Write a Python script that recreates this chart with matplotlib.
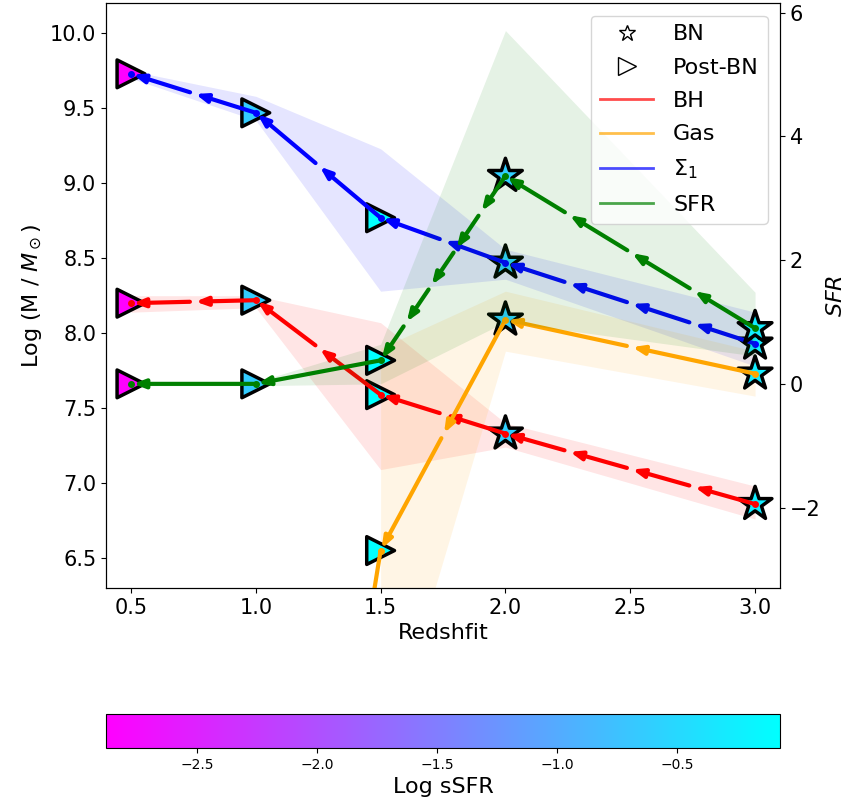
import numpy as np
import matplotlib
matplotlib.use("Agg")
import matplotlib.pyplot as plt
from matplotlib.colors import Normalize
from matplotlib.cm import ScalarMappable
from matplotlib.lines import Line2D
from matplotlib.patches import FancyArrowPatch

# redshift snapshots and the star-formation state at each one
redshift = np.array([0.5, 1.0, 1.5, 2.0, 3.0])
stage = np.array(["Post-BN", "Post-BN", "Post-BN", "BN", "BN"])
log_ssfr = np.array([-2.88, -0.63, -0.07, -0.60, -0.27])

# log masses (left axis) with their spread
bh = np.array([8.20, 8.22, 7.59, 7.33, 6.86])
bh_lo = np.array([8.14, 8.17, 7.09, 7.24, 6.76])
bh_hi = np.array([8.25, 8.25, 8.07, 7.40, 6.98])

gas = np.array([1.4, 1.4, 6.55, 8.09, 7.73])
gas_lo = np.array([np.nan, np.nan, 5.08, 7.88, 7.58])
gas_hi = np.array([np.nan, np.nan, 7.90, 8.28, 7.88])

sigma1 = np.array([9.73, 9.47, 8.77, 8.47, 7.93])
sigma1_lo = np.array([9.70, 9.42, 8.28, 8.36, 7.78])
sigma1_hi = np.array([9.75, 9.58, 9.23, 8.56, 8.14])

# star formation rate (right axis)
sfr = np.array([0.0, 0.0, 0.38, 3.36, 0.90])
sfr_lo = np.array([-0.03, -0.03, 0.0, 1.0, 0.45])
sfr_hi = np.array([0.03, 0.03, 0.64, 5.71, 1.48])

# how many arrow pieces each segment is cut into (low z -> high z)
bh_pieces = [2, 2, 2, 4]
gas_pieces = [2, 2, 2, 2]
sigma1_pieces = [2, 2, 2, 4]
sfr_pieces = [1, 1, 5, 4]

CMAP = "cool_r"
norm = Normalize(log_ssfr.min(), log_ssfr.max())


def draw_track(ax, y, color, pieces):
    """Arrows running from high redshift to low redshift."""
    for i in range(len(redshift) - 1):
        z0, z1 = redshift[i + 1], redshift[i]
        y0, y1 = y[i + 1], y[i]
        n = pieces[i]
        for k in range(n):
            a, b = k / n, (k + 1) / n
            pa = (z0 + (z1 - z0) * a, y0 + (y1 - y0) * a)
            pb = (z0 + (z1 - z0) * b, y0 + (y1 - y0) * b)
            arr = FancyArrowPatch(
                pa, pb,
                arrowstyle="-|>,head_length=0.45,head_width=0.17",
                mutation_scale=15, color=color, lw=3,
                shrinkA=2.5 if k > 0 else 0, shrinkB=1.5, zorder=4,
            )
            ax.add_patch(arr)
    ax.plot(redshift, y, "o", color=color, ms=4, zorder=5)


def draw_markers(ax, y):
    for name, marker, size in [("Post-BN", ">", 400), ("BN", "*", 650)]:
        m = stage == name
        ax.scatter(redshift[m], y[m], c=log_ssfr[m], cmap=CMAP, norm=norm,
                   marker=marker, s=size, edgecolors="k", linewidths=2.5, zorder=3)


fig = plt.figure(figsize=(8.5, 8.02), dpi=100)
ax = fig.add_axes([0.1247, 0.2668, 0.793, 0.729])
ax2 = ax.twinx()
cax = fig.add_axes([0.1247, 0.0673, 0.793, 0.0424])

for lo, hi, c in [(sigma1_lo, sigma1_hi, "blue"), (bh_lo, bh_hi, "red"), (gas_lo, gas_hi, "orange")]:
    ax.fill_between(redshift, lo, hi, color=c, alpha=0.1, lw=0)
ax2.fill_between(redshift, sfr_lo, sfr_hi, color="green", alpha=0.1, lw=0)

for y in (bh, gas, sigma1):
    draw_markers(ax, y)
draw_markers(ax2, sfr)

draw_track(ax, bh, "red", bh_pieces)
draw_track(ax, gas, "orange", gas_pieces)
draw_track(ax, sigma1, "blue", sigma1_pieces)
draw_track(ax2, sfr, "green", sfr_pieces)

ax.set_xlim(0.4, 3.1)
ax.set_ylim(6.3, 10.2)
ax2.set_ylim(-3.3, 6.15)
ax.set_xticks([0.5, 1.0, 1.5, 2.0, 2.5, 3.0])
ax.set_yticks(np.arange(6.5, 10.01, 0.5))
ax2.set_yticks([-2, 0, 2, 4, 6])
ax.tick_params(labelsize=15)
ax2.tick_params(labelsize=15)
ax.set_xlabel("Redshfit", fontsize=16)
ax.set_ylabel(r"Log (M / $M_\odot$)", fontsize=16)
ax2.set_ylabel(r"$SFR$", fontsize=16)

handles = [
    Line2D([], [], ls="none", marker="*", mfc="white", mec="k", mew=1, ms=12),
    Line2D([], [], ls="none", marker=">", mfc="white", mec="k", mew=1, ms=13),
    Line2D([], [], color="red", lw=2, alpha=0.7),
    Line2D([], [], color="orange", lw=2, alpha=0.7),
    Line2D([], [], color="blue", lw=2, alpha=0.7),
    Line2D([], [], color="green", lw=2, alpha=0.7),
]
labels = ["BN", "Post-BN", "BH", "Gas", r"$\Sigma_1$", "SFR"]
ax2.legend(handles, labels, loc="upper right", fontsize=16, labelspacing=0.6,
           handlelength=2.4, handletextpad=0.9, borderaxespad=0.55)

cb = fig.colorbar(ScalarMappable(norm=norm, cmap=CMAP), cax=cax, orientation="horizontal")
cb.set_label("Log sSFR", fontsize=16)
cb.ax.tick_params(labelsize=10)

fig.savefig("out.png", dpi=100)
